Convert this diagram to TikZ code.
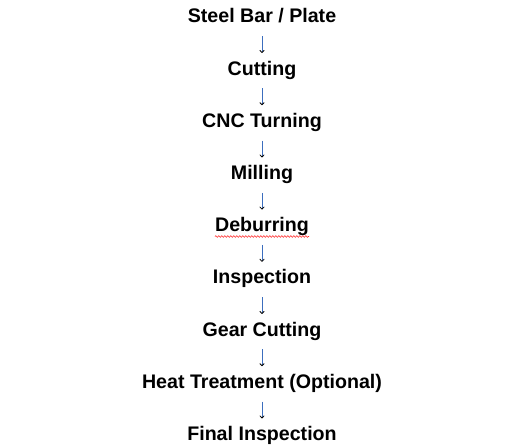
\documentclass[tikz,border=0pt]{standalone}
\usepackage{fontspec}
\setmainfont{Liberation Sans}
\usetikzlibrary{positioning,arrows.meta,decorations.pathmorphing}
\definecolor{stemblue}{RGB}{60,110,190}
\begin{document}
\begin{tikzpicture}[x=1bp, y=-1bp, node distance=33.8bp,
  stage/.style={font=\fontsize{19.7}{22}\selectfont\bfseries, inner sep=0pt,
    text height=14bp, text depth=4bp},
  flow/.style={draw=stemblue, line width=.8pt, shorten <=9bp, shorten >=8bp,
    -{To[length=3pt, width=5pt, color=black]}}, ]
   %Rahmen
\useasboundingbox (0,0) rectangle (528,447);
%Stationen
\node[stage] (bar) at (262,18) {Steel Bar / Plate};
\node[stage, below=of bar] (cut) {Cutting};
\node[stage, below=of cut] (cnc) {CNC Turning};
\node[stage, below=of cnc] (mill) {Milling};
\node[stage, below=of mill] (deburr) {Deburring};
\node[stage, below=of deburr] (insp) {Inspection};
\node[stage, below=of insp] (gear) {Gear Cutting};
\node[stage, below=of gear] (heat) {Heat Treatment (Optional)};
\node[stage, below=of heat] (final) {Final Inspection};
%Pfeile
\foreach \a/\b in {bar/cut, cut/cnc, cnc/mill, mill/deburr, deburr/insp,
  insp/gear, gear/heat, heat/final}
  \draw[flow] (\a) -- (\b);
%Wellenlinie
\draw[red, line width=.5pt, decorate, decoration={snake, amplitude=.8bp, segment length=3bp}]
  ([yshift=-0.5bp]deburr.south west) -- ([yshift=-0.5bp]deburr.south east);
\end{tikzpicture}
\end{document}
